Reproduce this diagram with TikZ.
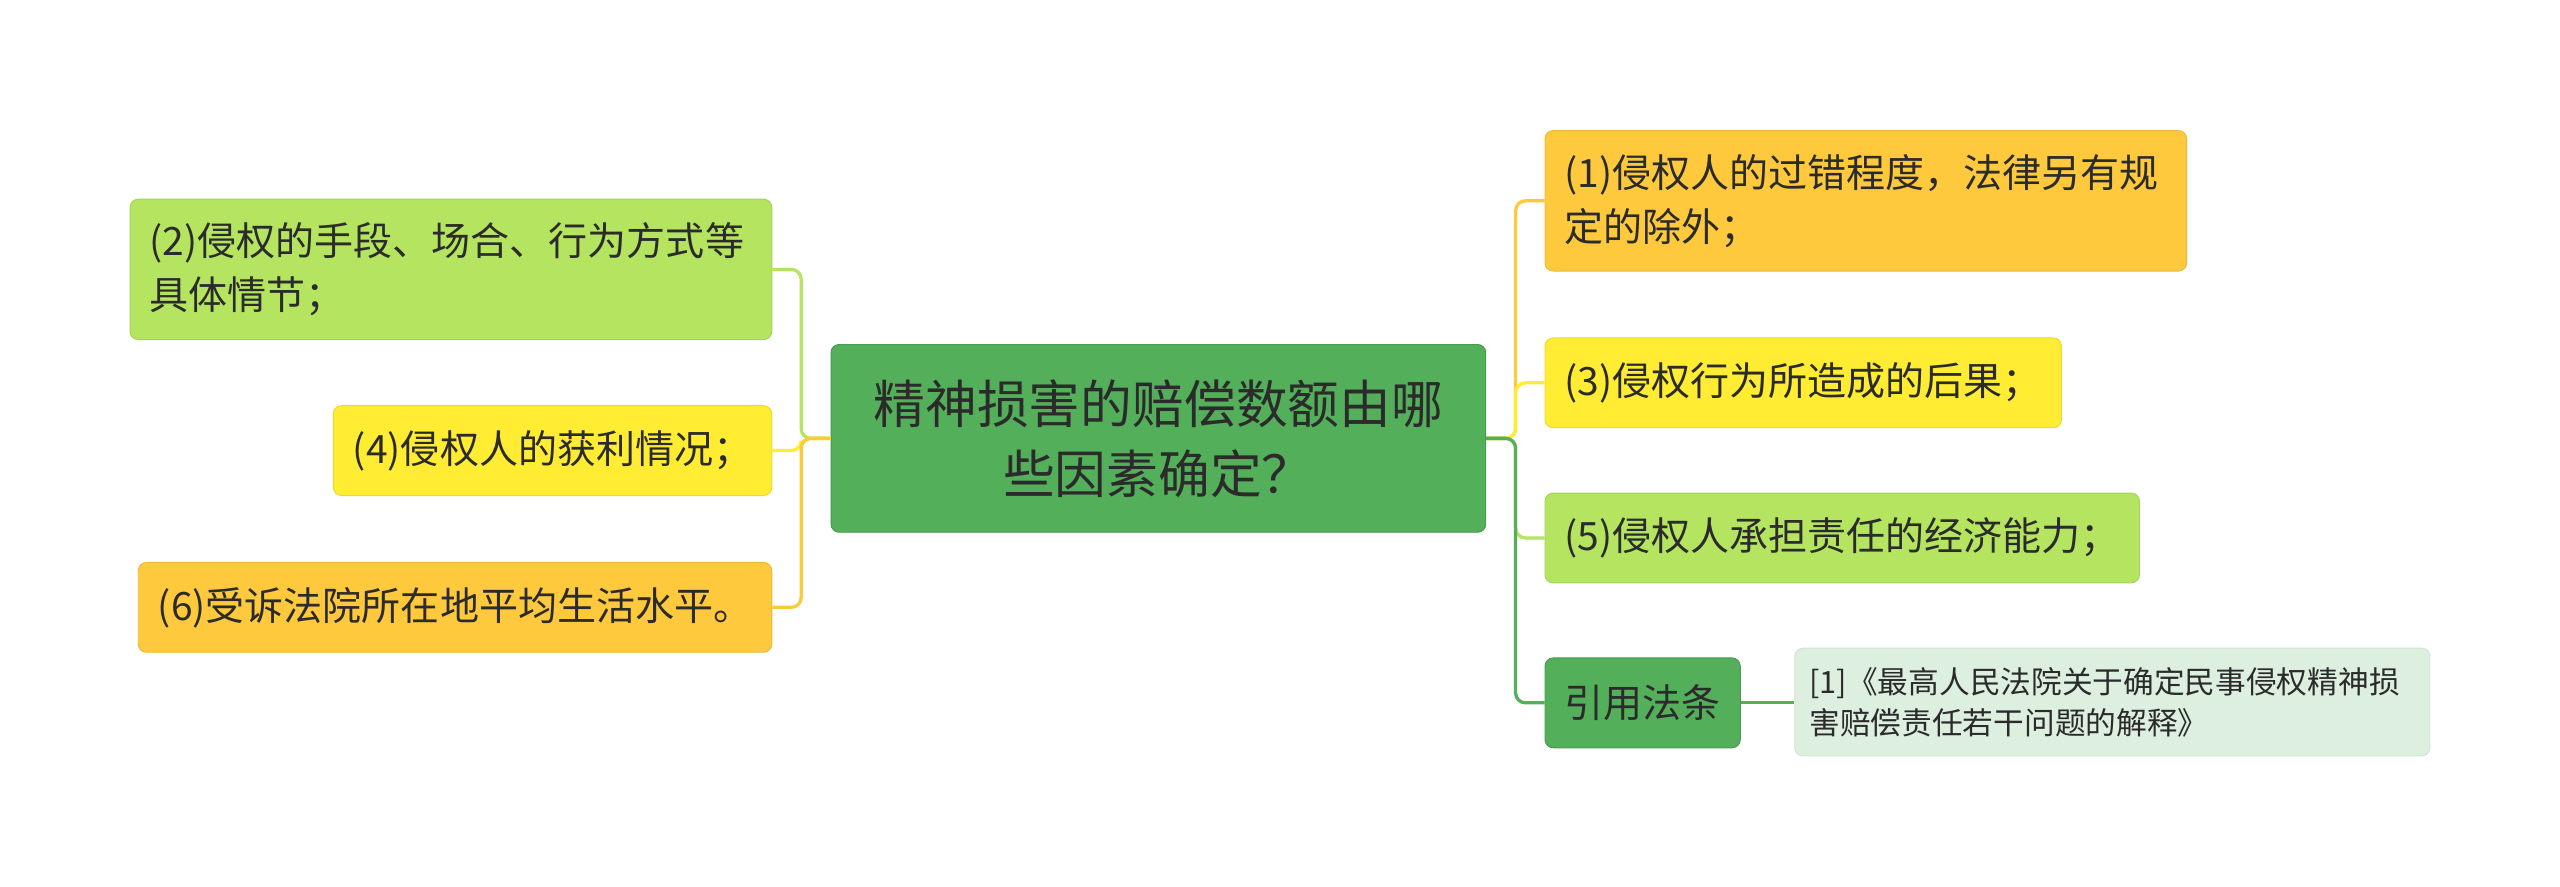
\documentclass[tikz,border=0pt]{standalone}
\usepackage{fontspec}
\setmainfont{Noto Sans CJK SC}
\usetikzlibrary{positioning}
\definecolor{mapgreen}{HTML}{54AF5B}
\definecolor{maplime}{HTML}{B4E460}
\definecolor{mapyellow}{HTML}{FFEC33}
\definecolor{maporange}{HTML}{FFC93E}
\definecolor{mappale}{HTML}{DDEFDF}
\definecolor{maptext}{HTML}{2B2B2B}
\tikzset{
  mnode/.style={rounded corners=5pt, inner xsep=12pt, inner ysep=0pt,
                align=left, text=maptext, line width=0.6pt,
                font=\fontsize{23.9}{33}\selectfont, minimum height=55pt},
  mroot/.style={mnode, fill=mapgreen, draw=mapgreen!88!black, align=center,
                font=\fontsize{31.7}{43}\selectfont,
                minimum width=401pt, minimum height=115pt},
  mlime/.style={mnode, fill=maplime, draw=maplime!92!black},
  myellow/.style={mnode, fill=mapyellow, draw=mapyellow!92!black},
  morange/.style={mnode, fill=maporange, draw=maporange!92!black},
  mcite/.style={mnode, fill=mapgreen, draw=mapgreen!88!black},
  mref/.style={mnode, fill=mappale, draw=mappale!95!black, inner xsep=9pt,
               font=\fontsize{18.8}{25}\selectfont, minimum height=66pt},
  mlink/.style={line width=2pt, rounded corners=6pt},
}

\begin{document}
\begin{tikzpicture}[x=1pt, y=-1pt]
  \useasboundingbox (0,0) rectangle (1568,543);

  % --- centre topic ---
  \node[mroot] (root) at (709.5,268.5)
    {精神损害的赔偿数额由哪\\些因素确定？};

  % --- left branches ---
  \node[mlime, text width=369pt, minimum height=86pt, anchor=east] (f2) at (473,165)
    {(2)侵权的手段、场合、行为方式等\\具体情节；};
  \node[myellow, anchor=east] (f4) at (473,276) {(4)侵权人的获利情况；};
  \node[morange, anchor=east] (f6) at (473,372) {(6)受诉法院所在地平均生活水平。};

  % --- right branches ---
  \node[morange, text width=369pt, minimum height=86pt, anchor=west] (f1) at (946,123)
    {(1)侵权人的过错程度，法律另有规\\定的除外；};
  \node[myellow, anchor=west] (f3) at (946,234.5) {(3)侵权行为所造成的后果；};
  \node[mlime, anchor=west] (f5) at (946,329.5) {(5)侵权人承担责任的经济能力；};
  \node[mcite, anchor=west] (cite) at (946,430.5) {引用法条};
  \node[mref, text width=371pt, anchor=west] (ref) at (1099,430)
    {[1]《最高人民法院关于确定民事侵权精神损\\害赔偿责任若干问题的解释》};

  \draw[mlink, draw=maplime] (root.west) -- ++(-18,0) |- (f2.east);
  \draw[mlink, draw=mapyellow] (root.west) -- ++(-18,0) |- (f4.east);
  \draw[mlink, draw=maporange] (root.west) -- ++(-18,0) |- (f6.east);

  \draw[mlink, draw=maporange] (root.east) -- ++(18,0) |- (f1.west);
  \draw[mlink, draw=mapyellow] (root.east) -- ++(18,0) |- (f3.west);
  \draw[mlink, draw=maplime] (root.east) -- ++(18,0) |- (f5.west);
  \draw[mlink, draw=mapgreen] (root.east) -- ++(18,0) |- (cite.west);
  \draw[mlink, draw=mapgreen] (cite.east) -- (cite.east -| ref.west);
\end{tikzpicture}
\end{document}
